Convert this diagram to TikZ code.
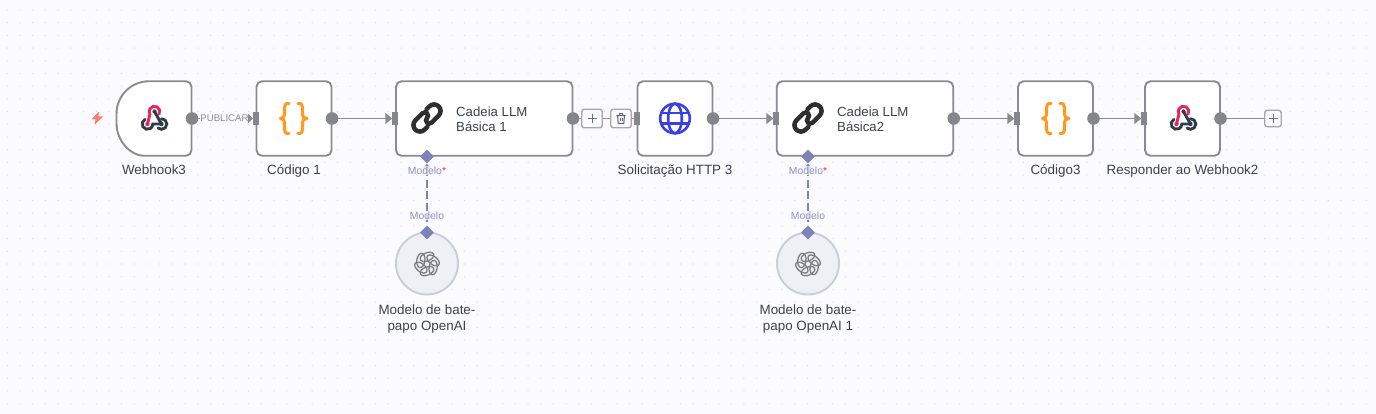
\documentclass[tikz,border=0pt]{standalone}
\usepackage{fontspec}
\setmainfont{Liberation Sans}
\usetikzlibrary{arrows.meta,shapes.geometric}
\definecolor{bgc}{HTML}{FBFBFE}
\definecolor{dotc}{HTML}{DDDEE5}
\definecolor{linec}{HTML}{8A8B92}
\definecolor{portc}{HTML}{85868C}
\definecolor{textc}{HTML}{3C4050}
\definecolor{purp}{HTML}{7D83BA}
\definecolor{purpt}{HTML}{8E90C8}
\definecolor{pinkc}{HTML}{E8265E}
\definecolor{darkc}{HTML}{2F3D4A}
\definecolor{orangec}{HTML}{FF9922}
\definecolor{bluec}{HTML}{3A3FE8}
\definecolor{redc}{HTML}{F0745F}
\definecolor{boltc}{HTML}{FF7B6B}
\definecolor{aifill}{HTML}{EFF0F5}
\definecolor{airing}{HTML}{C9CDDB}
\tikzset{
  box/.style={draw=linec,line width=1.9pt,fill=white,rounded corners=5.5pt,inner sep=0pt,outer sep=0pt,minimum height=74.5pt},
  sqbox/.style={box,minimum width=75pt},
  widebox/.style={box,minimum width=176.5pt},
  inport/.style={fill=portc,inner sep=0pt,outer sep=0pt,minimum width=6pt,minimum height=12.5pt},
  outport/.style={circle,fill=portc,inner sep=0pt,outer sep=0pt,minimum size=12.6pt},
  edge/.style={draw=linec,line width=1.8pt,-{Triangle[length=7pt,width=11pt]}},
  shortedge/.style={draw=linec,line width=1.8pt,-{Triangle[length=5pt,width=10pt]}},
  plainedge/.style={draw=linec,line width=1.8pt},
  rededge/.style={draw=redc,line width=1.8pt},
  lbl/.style={text=textc,font=\fontsize{13.4}{16}\selectfont,align=center,inner sep=0pt,text height=10pt,text depth=3pt},
  titlelbl/.style={text=textc,font=\fontsize{13.2}{15}\selectfont,align=left,inner sep=0pt,anchor=west,text height=10pt,text depth=3pt},
  modlbl/.style={text=purpt,font=\fontsize{10.4}{12}\selectfont,inner sep=0.8pt,fill=bgc,fill opacity=.75,text opacity=1},
  diam/.style={diamond,fill=purp,inner sep=0pt,minimum size=14pt},
  aiedge/.style={draw=purp,line width=1.8pt,dash pattern=on 8pt off 3.5pt},
  aicircle/.style={circle,draw=airing,line width=1.9pt,fill=aifill,inner sep=0pt,minimum size=62pt},
  btn/.style={draw=linec!75,line width=1.4pt,fill=bgc,rounded corners=2.5pt,inner sep=0pt,minimum width=20.5pt,minimum height=18.5pt},
  pics/hookicon/.style={code={
    \draw[darkc,line width=2.9pt,line cap=round] (0,-6.5) -- (7,6);
    \fill[darkc] (0,-6.5) circle (2.1);
    \draw[darkc,line width=2.9pt,line cap=round] (-9.65,1.4) arc (-120:-360:5.3) -- (7,6);
    \draw[darkc,line width=2.9pt,line cap=round] (7,0.7) arc (-90:130:5.3);
    \draw[pinkc,line width=2.9pt,line cap=round] (4.6,-3.85) arc (30:-210:5.3) -- (-7,6);
    \fill[pinkc] (-7,6) circle (2.2);
    \fill[darkc] (7,6) circle (2.2);
  }},
  pics/braceicon/.style={code={
    \draw[orangec,line width=3.1pt,line cap=round,line join=round]
      (-4.5,-15) .. controls (-8,-15) and (-9,-14) .. (-9,-11) -- (-9,-4) .. controls (-9,-1.5) and (-10.5,0) .. (-13,0)
      .. controls (-10.5,0) and (-9,1.5) .. (-9,4) -- (-9,11) .. controls (-9,14) and (-8,15) .. (-4.5,15);
    \draw[orangec,line width=3.1pt,line cap=round,line join=round]
      (4.5,-15) .. controls (8,-15) and (9,-14) .. (9,-11) -- (9,-4) .. controls (9,-1.5) and (10.5,0) .. (13.5,0)
      .. controls (10.5,0) and (9,1.5) .. (9,4) -- (9,11) .. controls (9,14) and (8,15) .. (4.5,15);
  }},
  pics/chainicon/.style={code={
    \begin{scope}[rotate=45]
    \draw[black!82,line width=4.5pt,line cap=round] (-6,6.5) -- (-10,6.5) arc (90:270:6.5) -- (0,-6.5) arc (-90:90:3.25);
    \draw[black!82,line width=4.5pt,line cap=round] (6,-6.5) -- (10,-6.5) arc (-90:90:6.5) -- (0,6.5) arc (90:270:3.25);
    \end{scope}
  }},
  pics/globeicon/.style={code={
    \draw[bluec,line width=2.6pt] (0,0) circle (14.8);
    \draw[bluec,line width=2.6pt] (0,0) ellipse (6.8 and 14.8);
    \draw[bluec,line width=2.6pt] (-13.6,-5.3) -- (13.6,-5.3) (-13.6,5.3) -- (13.6,5.3);
  }},
  pics/aiicon/.style={code={
    \foreach \a in {0,60,...,300}{
      \draw[linec!90!black,line width=1.3pt,rotate=\a,shift={(0,-7.1)},rotate=22] (0,0) ellipse (7.2 and 4.05);
    }
  }},
  pics/binicon/.style={code={
    \draw[textc!80,line width=1.05pt,line join=round] (-3.4,-2.6) -- (-2.8,5) -- (2.8,5) -- (3.4,-2.6);
    \draw[textc!80,line width=1.05pt] (-4.6,-2.8) -- (4.6,-2.8) (-1.7,-2.8) -- (-1.4,-4.9) -- (1.4,-4.9) -- (1.7,-2.8);
    \draw[textc!80,line width=.8pt] (-1,-.8) -- (-1,3) (1,-.8) -- (1,3);
  }},
  pics/crossicon/.style={code={
    \draw[textc!75,line width=.95pt] (-#1,0) -- (#1,0) (0,-#1) -- (0,#1);
  }},
}
\begin{document}
\begin{tikzpicture}[x=1pt,y=-1pt]
\useasboundingbox (0,0) rectangle (1376,414);
\fill[bgc] (0,0) rectangle (1376,414);
\foreach \i in {0,...,107}{\foreach \j in {0,...,31}{
  \fill[dotc] ({7.3+12.7*\i},{10+12.7*\j}) circle (.65);
}}

% main nodes
\node[sqbox,draw=none,fill=none] (wh) at (154,118.5) {};
\draw[draw=linec,line width=1.9pt,fill=white]
  (149,81.25) [rounded corners=5.5pt] -- (wh.north east) -- (wh.south east) -- (149,155.75)
  [sharp corners] arc (90:180:32.5) -- (116.5,113.75) arc (180:270:32.5) -- cycle;
\node[sqbox] (code1) at (294,118.5) {};
\node[widebox] (llm1) at (484.25,118.5) {};
\node[sqbox] (http) at (675,118.5) {};
\node[widebox] (llm2) at (865,118.5) {};
\node[sqbox] (code3) at (1055.5,118.5) {};
\node[sqbox] (resp) at (1182.5,118.5) {};

% ports
\node[outport] (o1) at ([xshift=.5pt]wh.east) {};
\node[inport] (i2) at (255.8,118.5) {};
\node[outport] (o2) at ([xshift=.5pt]code1.east) {};
\node[inport] (i3) at (395.3,118.5) {};
\node[outport] (o3) at ([xshift=.5pt]llm1.east) {};
\node[inport] (i4) at (636.8,118.5) {};
\node[outport] (o4) at ([xshift=.5pt]http.east) {};
\node[inport] (i5) at (776.3,118.5) {};
\node[outport] (o5) at ([xshift=.5pt]llm2.east) {};
\node[inport] (i6) at (1017.3,118.5) {};
\node[outport] (o6) at ([xshift=.5pt]code3.east) {};
\node[inport] (i7) at (1144.3,118.5) {};
\node[outport] (o7) at ([xshift=.5pt]resp.east) {};
\node[btn,minimum width=16.5pt,minimum height=16.5pt] (endplus) at (1273,118.5) {};

% connectors
\node[text=linec,font=\fontsize{9.6}{11}\selectfont,fill=bgc,inner sep=.3pt] (pub) at (224.5,118.5) {PUBLICAR};
\draw[plainedge] (o1) -- (pub);
\draw[shortedge] (pub) -- (i2);
\draw[edge] (o2) -- (i3);
\draw[rededge] (o3) -- (i4);
\draw[edge] (o4) -- (i5);
\draw[edge] (o5) -- (i6);
\draw[edge] (o6) -- (i7);
\draw[plainedge] (o7) -- (endplus);

% action buttons
\node[btn] (addb) at (592,118.5) {};
\node[btn] (delb) at (621,118.5) {};
\pic at (addb.center) {crossicon=4.5};
\pic at (delb.center) {binicon};
\pic at (endplus.center) {crossicon=4.5};

% AI sub-nodes
\node[aicircle] (ai1) at (427,263.5) {};
\node[aicircle] (ai2) at (808,263.5) {};
\node[diam] (d1t) at (427,156.5) {};
\node[diam] (d1b) at (427,232.5) {};
\node[diam] (d2t) at (808,156.5) {};
\node[diam] (d2b) at (808,232.5) {};
\draw[aiedge,{Triangle[length=5pt,width=8pt]}-] (d1t) -- (d1b);
\draw[aiedge,{Triangle[length=5pt,width=8pt]}-] (d2t) -- (d2b);
\node[modlbl] (m1t) at (427,170.5) {Modelo\textcolor{pinkc}{*}};
\node[modlbl] (m1b) at (427,215.5) {Modelo};
\node[modlbl] (m2t) at (808,170.5) {Modelo\textcolor{pinkc}{*}};
\node[modlbl] (m2b) at (808,215.5) {Modelo};

% icons
\draw[boltc,fill=boltc,line width=.6pt,line join=round] (98.5,112.3) -- (92.3,119) -- (96.3,119) -- (94.8,124) -- (102.5,116.8) -- (98,116.8) -- cycle;
\pic at (154.5,118) {hookicon};
\pic at (293.5,118.5) {braceicon};
\pic at (1055.5,118.5) {braceicon};
\pic at (1183.5,118) {hookicon};
\pic at (675,118.5) {globeicon};
\pic at (427,118) {chainicon};
\pic at (808,118) {chainicon};
\pic at (427,264) {aiicon};
\pic at (808,264) {aiicon};

% text
\node[titlelbl] (t1a) at (456,113) {Cadeia LLM};
\node[titlelbl] (t1b) at (456,128) {Básica 1};
\node[titlelbl] (t2a) at (837,113) {Cadeia LLM};
\node[titlelbl] (t2b) at (837,128) {Básica2};
\node[lbl] (n1) at (154,171.5) {Webhook3};
\node[lbl] (n2) at (294,171.5) {Código 1};
\node[lbl] (n3) at (675,171.5) {Solicitação HTTP 3};
\node[lbl] (n4) at (1055.5,171.5) {Código3};
\node[lbl] (n5) at (1182.5,171.5) {Responder ao Webhook2};
\node[lbl,text height=,text depth=] (n6) at (427,319.5) {Modelo de bate-\\papo OpenAI};
\node[lbl,text height=,text depth=] (n7) at (808,319.5) {Modelo de bate-\\papo OpenAI 1};
\end{tikzpicture}
\end{document}
